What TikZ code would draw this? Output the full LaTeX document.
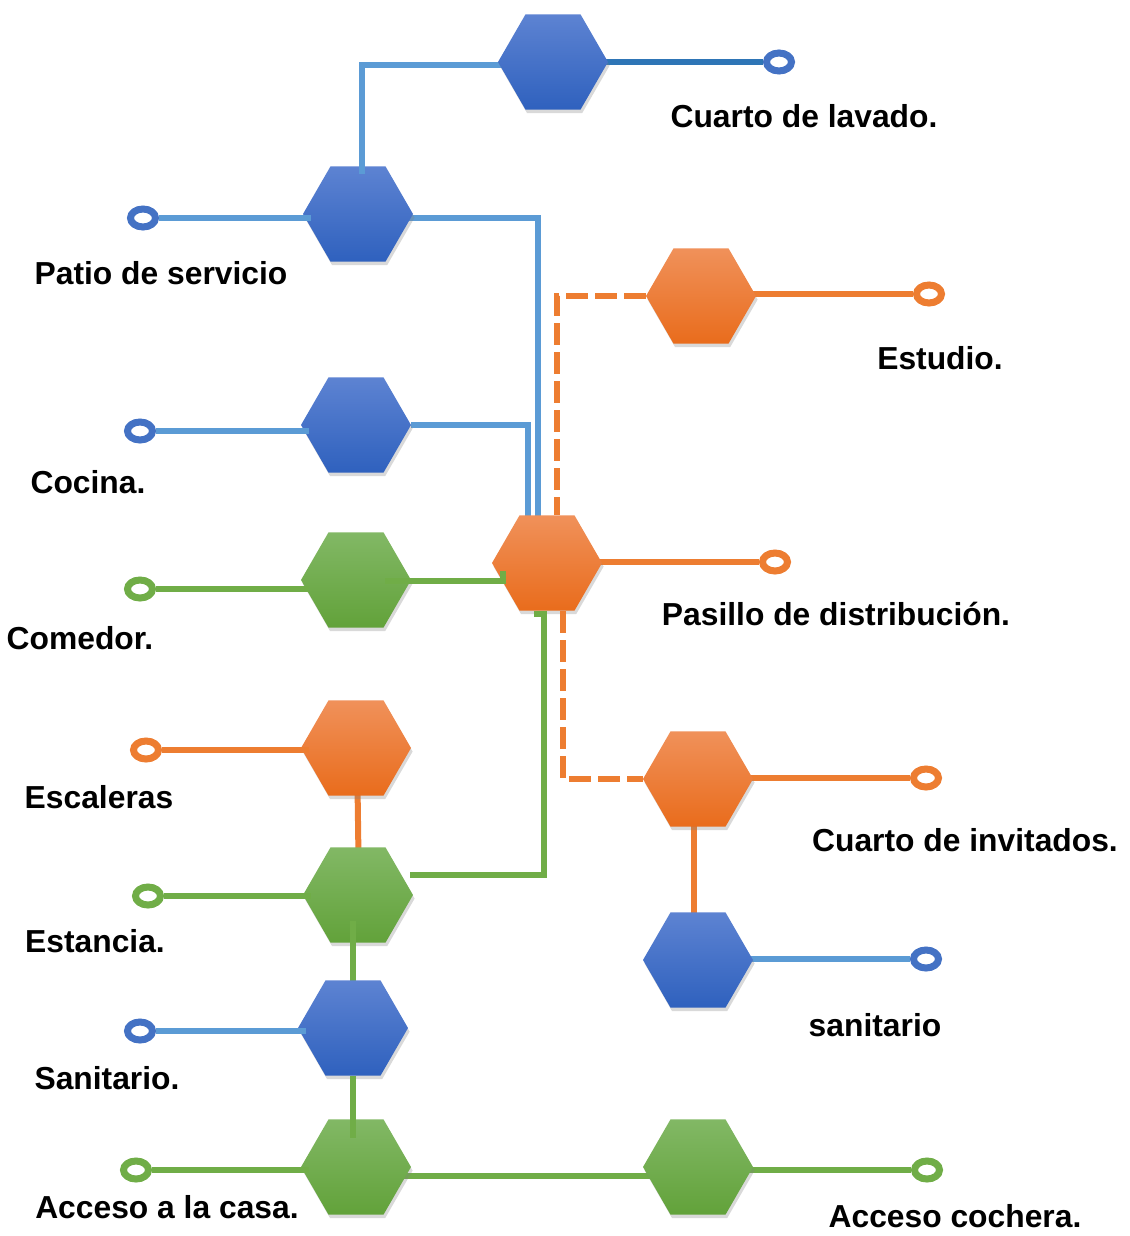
\documentclass[tikz,border=0pt]{standalone}
\usepackage{fontspec}
\setmainfont{Liberation Sans}
\usetikzlibrary{shapes.geometric,shadows,backgrounds}

\definecolor{azulclaro}{HTML}{5D83D2}
\definecolor{azul}{HTML}{2F61BE}
\definecolor{naranjaclaro}{HTML}{F0915A}
\definecolor{naranja}{HTML}{E96C1C}
\definecolor{verdeclaro}{HTML}{82B865}
\definecolor{verde}{HTML}{62A23A}
\definecolor{azullinea}{HTML}{5B9BD5}
\definecolor{azulosc}{HTML}{2E75B6}
\definecolor{anillo}{HTML}{4472C4}
\definecolor{naranjalinea}{HTML}{ED7D31}
\definecolor{verdelinea}{HTML}{70AD47}

\tikzstyle{hexa} = [regular polygon, regular polygon sides=6, minimum size=55pt, inner sep=0pt, draw=none,
  drop shadow={shadow xshift=0.8pt, shadow yshift=-1.8pt, opacity=0.3}]
\tikzstyle{hexazul} = [hexa, top color=azulclaro, bottom color=azul]
\tikzstyle{hexnaranja} = [hexa, top color=naranjaclaro, bottom color=naranja]
\tikzstyle{hexverde} = [hexa, top color=verdeclaro, bottom color=verde]
\tikzstyle{fin} = [ellipse, minimum width=12.5pt, minimum height=9pt, inner sep=0pt, line width=3.5pt, fill=white]
\tikzstyle{etiqueta} = [font=\bfseries\fontsize{15.9}{19}\selectfont, inner sep=0pt]
\tikzstyle{linea} = [line width=3pt]
\tikzstyle{discontinua} = [line width=3pt, naranjalinea, dash pattern=on 11pt off 3.5pt]

\begin{document}
\begin{tikzpicture}[x={(0.5pt,0)}, y={(0,-0.5pt)}]
\useasboundingbox (0,0) rectangle (1129,1236);

% hexagonos
\node[hexazul] (lavado) at (553,62) {};
\node[hexazul] (patio) at (358,214) {};
\node[hexnaranja] (estudio) at (701,296) {};
\node[hexazul] (cocina) at (356,425) {};
\node[hexnaranja] (pasillo) at (547,563) {};
\node[hexverde] (comedor) at (356,580) {};
\node[hexnaranja] (escaleras) at (356,748) {};
\node[hexnaranja] (invitados) at (698,779) {};
\node[hexverde] (estancia) at (358,895) {};
\node[hexazul] (sanitarioder) at (698,960) {};
\node[hexazul] (sanitarioizq) at (353,1028) {};
\node[hexverde] (acceso) at (356,1167) {};
\node[hexverde] (cochera) at (698,1167) {};

% remates
\node[fin, draw=anillo] (lavadofin) at (779,62) {};
\node[fin, draw=anillo] (patiofin) at (143,218) {};
\node[fin, draw=naranjalinea] (estudiofin) at (929,294) {};
\node[fin, draw=anillo] (cocinafin) at (140,431) {};
\node[fin, draw=naranjalinea] (pasillofin) at (775,562) {};
\node[fin, draw=verdelinea] (comedorfin) at (140,589) {};
\node[fin, draw=naranjalinea] (escalerasfin) at (146,750) {};
\node[fin, draw=naranjalinea] (invitadosfin) at (926,778) {};
\node[fin, draw=verdelinea] (estanciafin) at (148,896) {};
\node[fin, draw=anillo] (sanitariodefin) at (926,959) {};
\node[fin, draw=anillo] (sanitarioizfin) at (140,1031) {};
\node[fin, draw=verdelinea] (accesofin) at (136,1170) {};
\node[fin, draw=verdelinea] (cocherafin) at (927,1170) {};

% etiquetas
\node[etiqueta] (tlavado) at (804,116) {Cuarto de lavado.};
\node[etiqueta] (tpatio) at (161,273) {Patio de servicio};
\node[etiqueta] (testudio) at (940,358) {Estudio.};
\node[etiqueta] (tcocina) at (88,482) {Cocina.};
\node[etiqueta] (tcomedor) at (80,638) {Comedor.};
\node[etiqueta] (tpasillo) at (836,614) {Pasillo de distribución.};
\node[etiqueta] (tescaleras) at (99,797) {Escaleras};
\node[etiqueta] (tinvitados) at (965,840) {Cuarto de invitados.};
\node[etiqueta] (testancia) at (95,941) {Estancia.};
\node[etiqueta] (tsanitarioder) at (875,1025) {sanitario};
\node[etiqueta] (tsanitarioizq) at (107,1078) {Sanitario.};
\node[etiqueta] (tacceso) at (167,1207) {Acceso a la casa.};
\node[etiqueta] (tcochera) at (955,1216) {Acceso cochera.};

\begin{scope}[on background layer]
\draw[linea, azulosc, line width=3.4pt] (lavadofin -| lavado) -- (lavadofin);
\draw[linea, azullinea] ([yshift=-1.5pt]lavado.center) -| ([xshift=2pt]patio.center);
\draw[linea, azullinea] ([yshift=-2pt]patio.center) -| ([xshift=-4.5pt,yshift=-2pt]pasillo.north);
\draw[linea, azullinea] (cocina) -| ([xshift=-9.5pt,yshift=-2pt]pasillo.north);
\draw[linea, azullinea] (sanitariodefin -| sanitarioder) -- (sanitariodefin);
\draw[linea, naranjalinea] (estudiofin -| estudio) -- (estudiofin);
\draw[linea, naranjalinea] (pasillofin -| pasillo) -- (pasillofin);
\draw[linea, naranjalinea] (invitadosfin -| invitados) -- (invitadosfin);
\draw[linea, naranjalinea] ([xshift=-2pt]invitados.center) -- ([xshift=-2pt]sanitarioder.center);
\draw[linea, naranjalinea] ([xshift=0.5pt]escaleras.center) -- ([xshift=0.5pt]estancia.center);
\draw[linea, verdelinea] (cocherafin -| cochera) -- (cocherafin);
\draw[linea, verdelinea] ([yshift=-4.5pt]acceso.center) -- ([yshift=-4.5pt]cochera.center);
\draw[linea, verdelinea] (sanitarioizq.center) -- (sanitarioizq.center |- estancia.center);
\end{scope}

\draw[discontinua] (estudio.west) -| ([xshift=5pt]pasillo.north);
\draw[discontinua] ([xshift=8pt]pasillo.south) |- (invitados.west);
\draw[linea, azullinea] ([xshift=2pt,yshift=-4pt]patio.north) -- ([xshift=2pt]patio.north);
\draw[linea, azullinea] (patiofin.east) -- ([xshift=4pt]patiofin -| patio.west);
\draw[linea, azullinea] (cocinafin.east) -- ([xshift=4pt]cocinafin -| cocina.west);
\draw[linea, azullinea] (sanitarioizfin.east) -- ([xshift=4pt]sanitarioizfin -| sanitarioizq.west);
\draw[linea, naranjalinea] (escalerasfin.east) -- ([xshift=4pt]escalerasfin -| escaleras.west);
\draw[linea, verdelinea] (comedorfin.east) -- ([xshift=4pt]comedorfin -| comedor.west);
\draw[linea, verdelinea] (estanciafin.east) -- ([xshift=4pt]estanciafin -| estancia.west);
\draw[linea, verdelinea] (accesofin.east) -- ([xshift=4pt]accesofin -| acceso.west);
\draw[linea, verdelinea] ([xshift=-13pt,yshift=-0.5pt]comedor.east) -| ([xshift=-22pt,yshift=-4pt]pasillo.center);
\draw[linea, verdelinea] ([xshift=26pt,yshift=10pt]estancia.center) -| ([xshift=-1.5pt,yshift=-1.5pt]pasillo.south) -- ([xshift=-6.5pt,yshift=-1.5pt]pasillo.south);
\draw[linea, verdelinea] ([yshift=11pt]estancia.south -| sanitarioizq) -- (sanitarioizq.north);
\draw[linea, verdelinea] (sanitarioizq.south) -- ([yshift=-9.5pt]sanitarioizq.south |- acceso.north);
\end{tikzpicture}
\end{document}
